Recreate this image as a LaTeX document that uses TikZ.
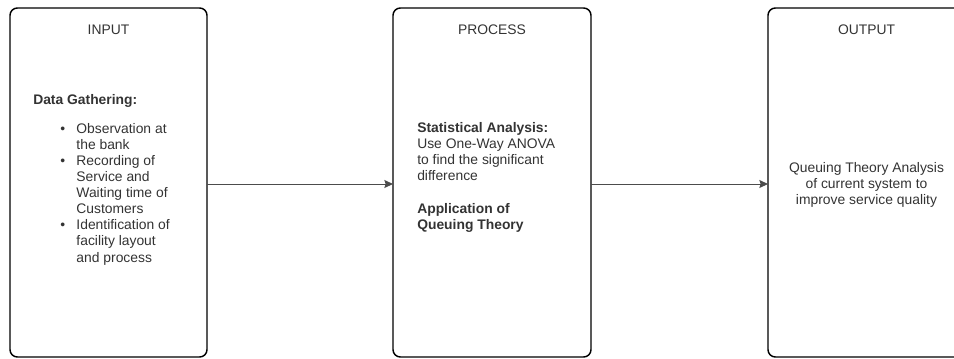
\documentclass[tikz,border=0pt]{standalone}
\usepackage{fontspec}
\setmainfont{Liberation Sans}
\usetikzlibrary{arrows.meta}
\tikzset{
  stage/.style={draw=black, line width=1.1pt, rounded corners=5.5pt},
  txt/.style={inner sep=0pt, text=black!80, font=\fontsize{10.4pt}{12.1pt}\selectfont},
  flow/.style={draw=black!70, line width=0.75pt, -{Stealth[length=6.5pt,width=6pt,inset=1pt]}}
}
\begin{document}
\begin{tikzpicture}[x=0.75pt,y=-0.75pt]
\useasboundingbox (0,0) rectangle (954,358);
% boxes
\draw[stage] (10,8) rectangle (207,357);
\draw[stage] (393,8) rectangle (591,357);
\draw[stage] (768,8) rectangle (965,357);
\coordinate (inR) at (207,184);
\coordinate (prL) at (393,184);
\coordinate (prR) at (591,184);
\coordinate (ouL) at (768,184);
% titles
\node[txt, anchor=base] (tin) at (108.5,34) {INPUT};
\node[txt, anchor=base] (tpr) at (492,34) {PROCESS};
\node[txt, anchor=base] (tou) at (866.5,34) {OUTPUT};
% input text
\node[txt, anchor=base west] (dg) at (33,104) {\textbf{Data Gathering:}};
\node[txt, anchor=base west] (dlist) at (60,133) {\begin{tabular}[t]{@{}l@{\hspace{8.5pt}}l@{}}
\textbullet & Observation at\\
 & the bank\\
\textbullet & Recording of\\
 & Service and\\
 & Waiting time of\\
 & Customers\\
\textbullet & Identification of\\
 & facility layout\\
 & and process
\end{tabular}};
% process text
\node[txt, anchor=base west] (ptext) at (417,132.5) {\begin{tabular}[t]{@{}l@{}}
\textbf{Statistical Analysis:}\\
Use One-Way ANOVA\\
to find the significant\\
difference\\
\\
\textbf{Application of}\\
\textbf{Queuing Theory}
\end{tabular}};
% output text
\node[txt, anchor=base] (otext) at (866.5,172.5) {\begin{tabular}[t]{@{}c@{}}
Queuing Theory Analysis\\
of current system to\\
improve service quality
\end{tabular}};
% connectors
\draw[flow] (inR) -- (prL);
\draw[flow] (prR) -- (ouL);
\end{tikzpicture}
\end{document}
